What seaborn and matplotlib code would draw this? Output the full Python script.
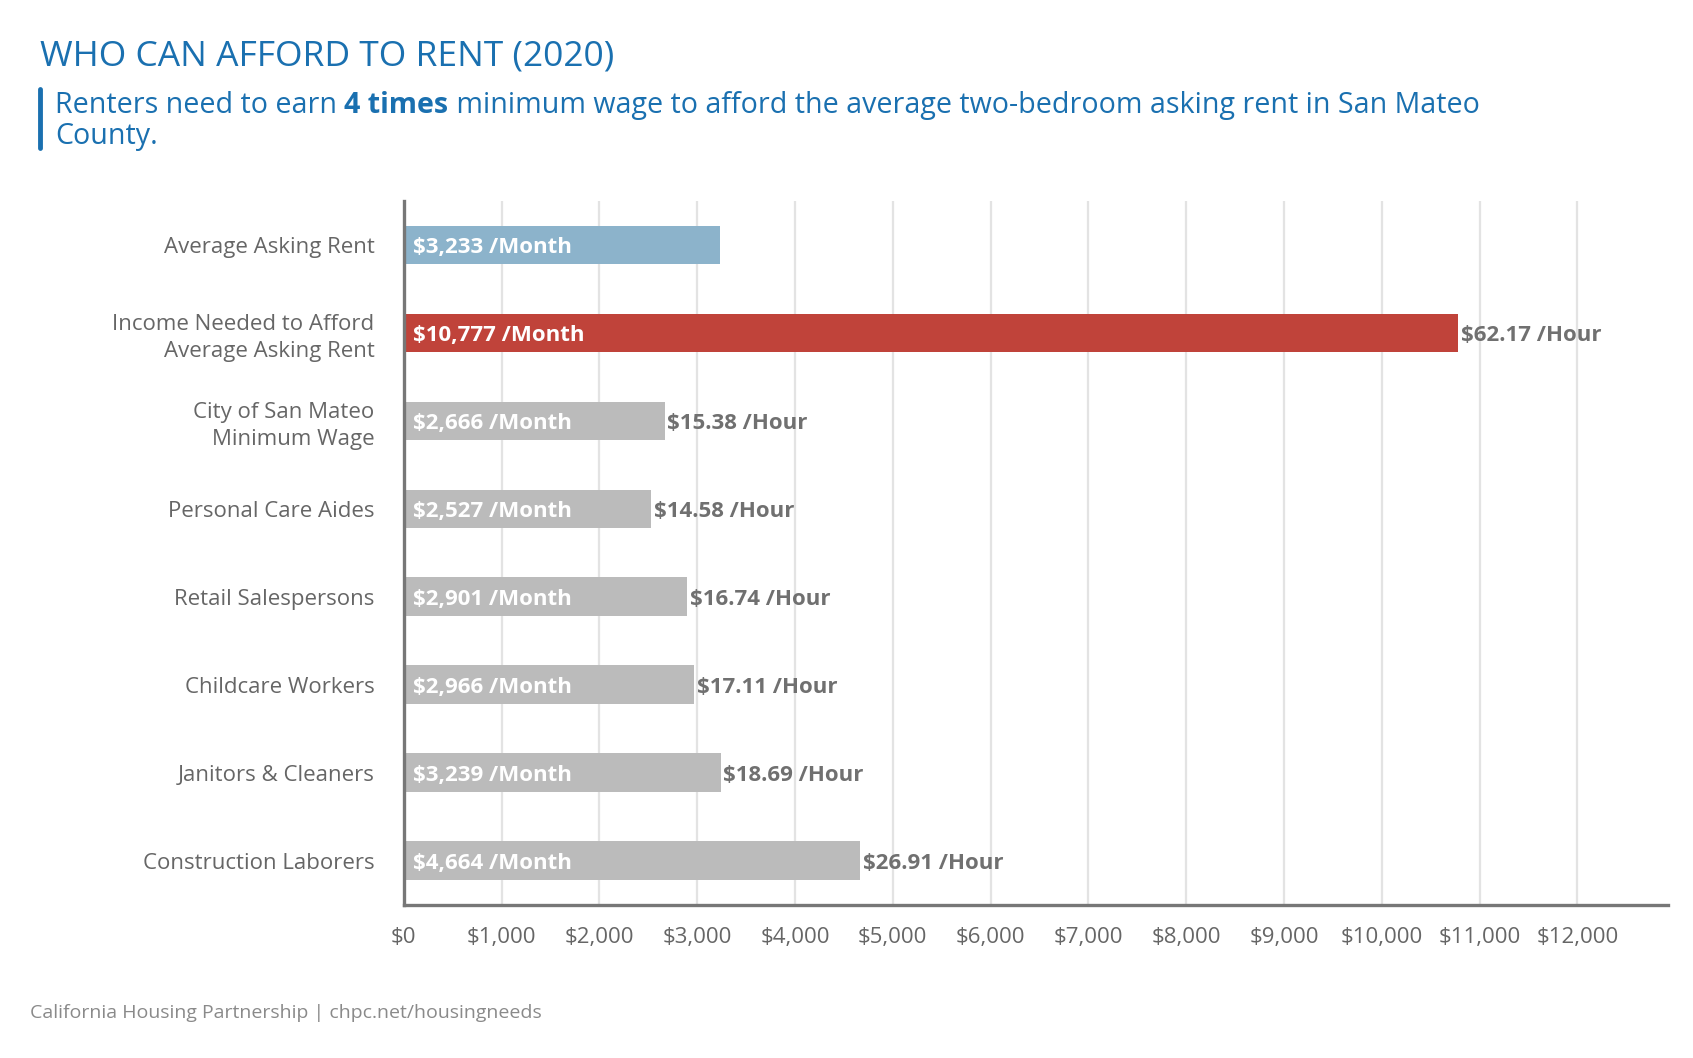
import matplotlib
matplotlib.use("Agg")
import matplotlib.pyplot as plt
import seaborn as sns
import pandas as pd

# Data
categories = [
    "Average Asking Rent",
    "Income Needed to Afford\nAverage Asking Rent",
    "City of San Mateo\nMinimum Wage",
    "Personal Care Aides",
    "Retail Salespersons",
    "Childcare Workers",
    "Janitors & Cleaners",
    "Construction Laborers",
]
monthly = [3233, 10777, 2666, 2527, 2901, 2966, 3239, 4664]
hourly = [None, 62.17, 15.38, 14.58, 16.74, 17.11, 18.69, 26.91]
groups = ["rent", "income", "job", "job", "job", "job", "job", "job"]
xticks = list(range(0, 13000, 1000))

palette = {"rent": "#8cb3cb", "income": "#c0433a", "job": "#bbbbbb"}
FONT = "Open Sans"
BLUE = "#1a70b0"
GREY = "#666666"

df = pd.DataFrame({"category": categories, "monthly": monthly, "group": groups})

sns.set_theme(style="white")
plt.rcParams["font.family"] = [FONT, "DejaVu Sans"]

fig = plt.figure(figsize=(16.93, 10.58), dpi=100)
ax = fig.add_axes([0.2385, 0.1449, 0.7469, 0.6651])

sns.barplot(data=df, y="category", x="monthly", hue="group", palette=palette,
            dodge=False, width=0.44, orient="h", legend=False, ax=ax,
            saturation=1, linewidth=0)

ax.set_xlim(0, 12930)
ax.set_ylim(7.5, -0.5)
ax.set_xticks(xticks)
ax.set_xticklabels([f"${v:,}" for v in xticks], fontsize=16, color=GREY)
ax.tick_params(axis="x", length=0, pad=16)
ax.tick_params(axis="y", length=0, pad=21, labelsize=16, labelcolor=GREY)
for lab in ax.get_yticklabels():
    lab.set_horizontalalignment("right")
    lab.set_linespacing(1.35)
ax.set_xlabel("")
ax.set_ylabel("")

ax.set_axisbelow(True)
ax.grid(axis="x", color="#e3e3e3", linewidth=1.6)
ax.grid(axis="y", visible=False)
for side in ["top", "right"]:
    ax.spines[side].set_visible(False)
for side in ["left", "bottom"]:
    ax.spines[side].set_color("#777777")
    ax.spines[side].set_linewidth(2.4)

# bar labels
for i, (m, h) in enumerate(zip(monthly, hourly)):
    ax.text(90, i, f"${m:,} /Month", va="center_baseline", ha="left",
            color="white", fontsize=16, fontweight="bold")
    if h is not None:
        ax.text(m + 30, i, f"${h:.2f} /Hour", va="center_baseline", ha="left",
                color="#707070", fontsize=16, fontweight="bold")

# title + subtitle
fig.text(0.0236, 0.947, "WHO CAN AFFORD TO RENT (2020)", color=BLUE,
         fontsize=25.5, va="center", ha="left")
fig.add_artist(plt.Line2D([0.0236, 0.0236], [0.860, 0.916], color=BLUE,
                          linewidth=3.5))

fig.canvas.draw()
renderer = fig.canvas.get_renderer()
pieces = [("Renters need to earn ", "normal"), ("4 times", "bold"),
          (" minimum wage to afford the average two-bedroom asking rent in San Mateo", "normal")]
x0, y0 = 0.0325, 0.900
t = None
for txt, w in pieces:
    if t is None:
        t = fig.text(x0, y0, txt, color=BLUE, fontsize=20.6, fontweight=w,
                     va="center", ha="left")
    else:
        ex = t.get_window_extent(renderer)
        t = fig.text(ex.x1 / fig.bbox.width, y0, txt, color=BLUE, fontsize=20.6,
                     fontweight=w, va="center", ha="left")
fig.text(x0, 0.871, "County.", color=BLUE, fontsize=20.6, va="center", ha="left")

fig.text(0.018, 0.043, "California Housing Partnership | chpc.net/housingneeds",
         color="#8a8a8a", fontsize=14, va="center", ha="left")

fig.savefig("out.png", dpi=100)
